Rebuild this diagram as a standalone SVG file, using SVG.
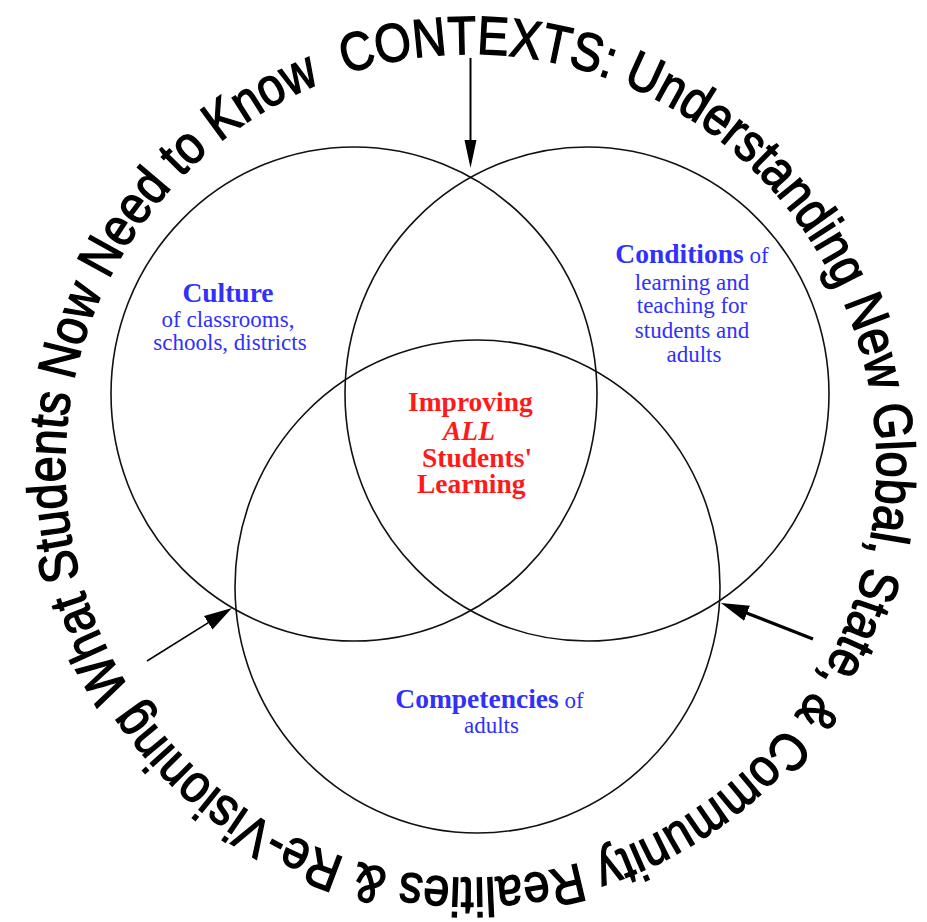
<svg xmlns="http://www.w3.org/2000/svg" width="927" height="922" viewBox="0 0 927 922">
  <style>
    .ring { fill: none; stroke: #111; stroke-width: 1.6; }
    .band { font-family: "Liberation Sans", Arial, sans-serif; font-size: 54px; fill: #000; stroke: #000; stroke-width: 1.4; }
    .lbl { font-family: "Liberation Serif", "Times New Roman", serif; }
    .mid { text-anchor: middle; }
    .b { font-weight: bold; font-size: 27.5px; }
    .r { font-weight: normal; font-size: 23px; }
    .blue { fill: #3030ff; }
    .red { fill: #ff1a1a; }
    .arrow { fill: none; stroke: #000; }
  </style>
  <defs>
    <!-- baseline for the lettering that rings the diagram, running clockwise -->
    <path id="band-path" d="M345.5,74.2 A406,412 0 0 1 868.1,551.7 A406,412 0 0 1 199.3,772.2 A406,412 0 0 1 345.5,74.2"/>
    <marker id="head" markerUnits="userSpaceOnUse" markerWidth="30" markerHeight="18" viewBox="0 0 30 18" refX="20" refY="9" orient="auto">
      <path d="M0,1 L28,9 L0,17 Z" fill="#000"/>
    </marker>
    <marker id="head-narrow" markerUnits="userSpaceOnUse" markerWidth="30" markerHeight="18" viewBox="0 0 30 18" refX="20" refY="9" orient="auto">
      <path d="M0,3 L28,9 L0,15 Z" fill="#000"/>
    </marker>
  </defs>

  <rect width="927" height="922" fill="#fff"/>

  <!-- three overlapping circles -->
  <g id="culture">
    <ellipse class="ring" cx="354" cy="394" rx="243" ry="247"/>
    <text class="lbl blue mid" x="230">
      <tspan class="b" x="230" y="302">Culture</tspan>
      <tspan class="r" x="230" y="327">of classrooms,</tspan>
      <tspan class="r" x="230" y="350">schools, districts</tspan>
    </text>
  </g>

  <g id="conditions">
    <ellipse class="ring" cx="587" cy="394" rx="242" ry="247"/>
    <text class="lbl blue mid">
      <tspan x="694" y="263"><tspan class="b">Conditions</tspan><tspan class="r"> of</tspan></tspan>
      <tspan class="r" x="694" y="290">learning and</tspan>
      <tspan class="r" x="694" y="313">teaching for</tspan>
      <tspan class="r" x="694" y="338">students and</tspan>
      <tspan class="r" x="694" y="362">adults</tspan>
    </text>
  </g>

  <g id="competencies">
    <ellipse class="ring" cx="477.5" cy="586.5" rx="242.5" ry="246.5"/>
    <text class="lbl blue mid">
      <tspan x="491.5" y="708"><tspan class="b">Competencies</tspan><tspan class="r"> of</tspan></tspan>
      <tspan class="r" x="491.5" y="733">adults</tspan>
    </text>
  </g>

  <g id="improving">
    <text class="lbl red b">
      <tspan x="408" y="411">Improving</tspan>
      <tspan x="443" y="440" font-style="italic">ALL</tspan>
      <tspan x="422" y="467">Students'</tspan>
      <tspan x="417" y="493">Learning</tspan>
    </text>
  </g>

  <g id="contexts-band">
    <text class="band"><textPath href="#band-path" textLength="2543" lengthAdjust="spacingAndGlyphs">CONTEXTS: Understanding New Global, State, &amp; Community Realities &amp; Re-Visioning What Students Now Need to Know</textPath></text>
  </g>

  <g id="connectors">
    <line class="arrow" x1="470.5" y1="58" x2="470.5" y2="160" stroke-width="2" marker-end="url(#head-narrow)"/>
    <line class="arrow" x1="147" y1="661" x2="225.2" y2="612.2" stroke-width="1.5" marker-end="url(#head)"/>
    <line class="arrow" x1="813" y1="639" x2="728.4" y2="605.9" stroke-width="3.2" marker-end="url(#head)"/>
  </g>
</svg>
